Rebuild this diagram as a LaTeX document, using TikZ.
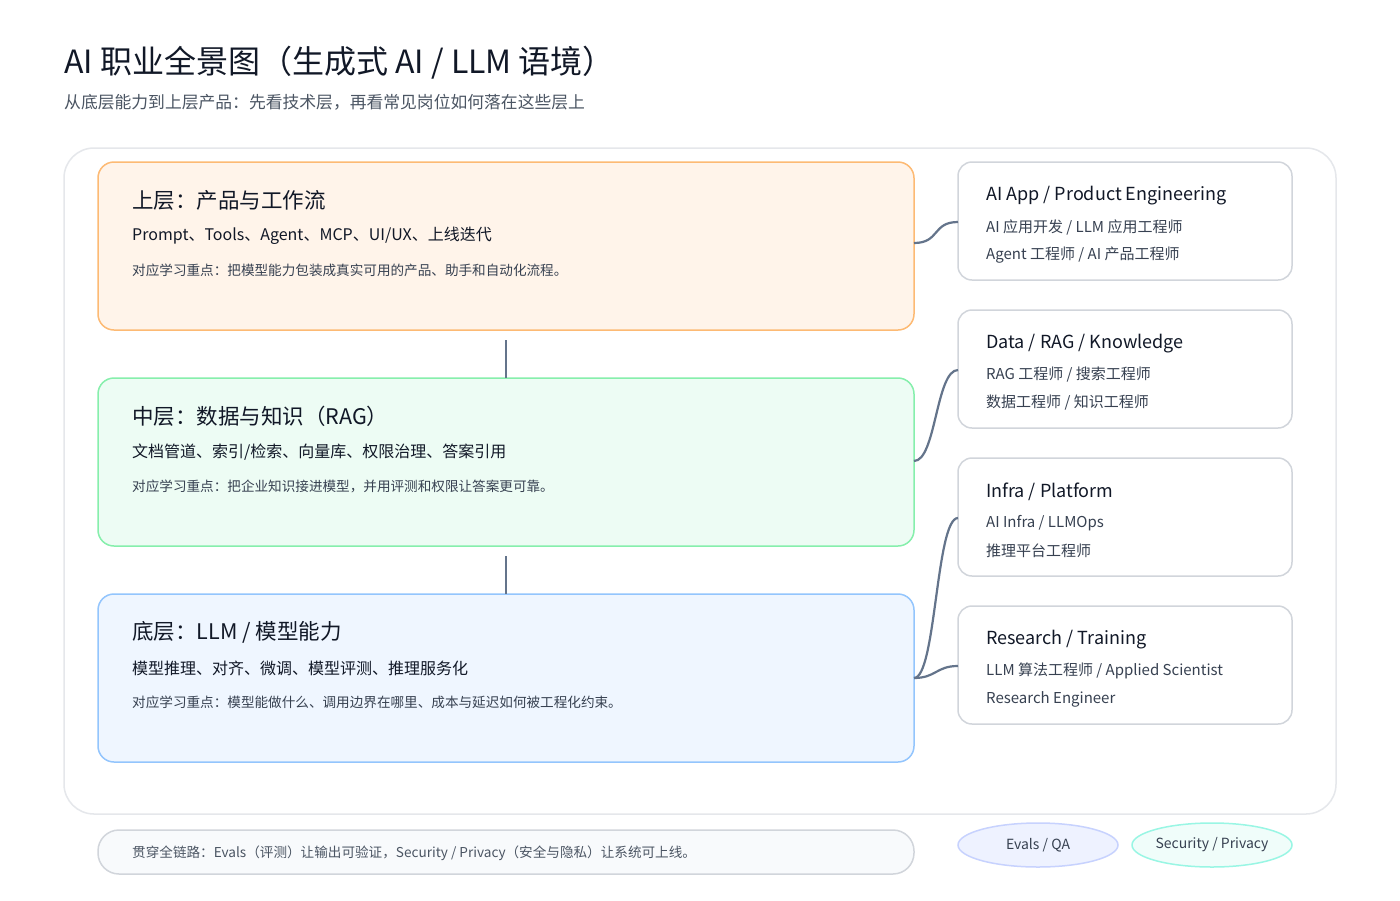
\documentclass[tikz,border=0pt]{standalone}
\usepackage{fontspec}
\setmainfont{Noto Sans CJK SC}
\usetikzlibrary{shapes.geometric}
\definecolor{ink}{HTML}{111827}
\definecolor{sub}{HTML}{374151}
\definecolor{mut}{HTML}{4B5563}
\definecolor{conn}{HTML}{64748B}
\definecolor{gbord}{HTML}{D1D5DB}
\definecolor{obord}{HTML}{FDBA74}\definecolor{ofill}{HTML}{FFF4EA}
\definecolor{gnbord}{HTML}{86EFAC}\definecolor{gnfill}{HTML}{EDFCF4}
\definecolor{bbord}{HTML}{93C5FD}\definecolor{bfill}{HTML}{EFF6FF}
\definecolor{footfill}{HTML}{F8FAFC}
\definecolor{evbord}{HTML}{C7D2FE}\definecolor{evfill}{HTML}{EEF2FF}
\definecolor{spbord}{HTML}{99F6E4}\definecolor{spfill}{HTML}{F0FDFA}
\definecolor{outer}{HTML}{E5E7EB}
\tikzset{
 layer/.style={draw, line width=1.5pt, rounded corners=16pt},
 role/.style={draw=gbord, fill=white, line width=1.5pt, rounded corners=14pt},
 lt/.style={anchor=west, inner sep=0pt, text=ink, font=\fontsize{21.5}{24}\selectfont},
 l2/.style={anchor=west, inner sep=0pt, text=ink, font=\fontsize{16}{19}\selectfont},
 l3/.style={anchor=west, inner sep=0pt, text=sub, font=\fontsize{13.6}{16}\selectfont},
 rt/.style={anchor=west, inner sep=0pt, text=ink, font=\fontsize{18}{21}\selectfont},
 rl/.style={anchor=west, inner sep=0pt, text=sub, font=\fontsize{15}{18}\selectfont},
 cn/.style={draw=conn, line width=2.2pt},
 pill/.style={ellipse, line width=1.5pt, minimum width=160pt, minimum height=44pt, inner sep=0pt, text=sub, font=\fontsize{14}{16}\selectfont},
}
\begin{document}
\begin{tikzpicture}[x=1pt,y=-1pt]
\useasboundingbox[fill=white] (0,0) rectangle (1400,900);
\node[anchor=base west, inner sep=0pt, text=ink, font=\fontsize{32}{36}\selectfont] (title) at (64,73) {AI 职业全景图（生成式 AI / LLM 语境）};
\node[anchor=base west, inner sep=0pt, text=mut, font=\fontsize{16.8}{19}\selectfont] (subt) at (64,108) {从底层能力到上层产品：先看技术层，再看常见岗位如何落在这些层上};
\draw[draw=outer, line width=1.5pt, rounded corners=30pt] (64,148) rectangle (1336,814);
% layers
\draw[layer, draw=obord, fill=ofill] (98,162) rectangle (914,330);
\draw[layer, draw=gnbord, fill=gnfill] (98,378) rectangle (914,546);
\draw[layer, draw=bbord, fill=bfill] (98,594) rectangle (914,762);
\coordinate (L1) at (914,243); \coordinate (L2) at (914,461); \coordinate (L3) at (914,678);
\coordinate (v1a) at (506,340); \coordinate (v1b) at (506,378);
\coordinate (v2a) at (506,556); \coordinate (v2b) at (506,594);
\draw[cn] (v1a) -- (v1b); \draw[cn] (v2a) -- (v2b);
\node[lt] (t1) at (132,200) {上层：产品与工作流};
\node[l2] (a1) at (132,236) {Prompt、Tools、Agent、MCP、UI/UX、上线迭代};
\node[l3] (b1) at (132,270) {对应学习重点：把模型能力包装成真实可用的产品、助手和自动化流程。};
\node[lt] (t2) at (132,416) {中层：数据与知识（RAG）};
\node[l2] (a2) at (132,452) {文档管道、索引/检索、向量库、权限治理、答案引用};
\node[l3] (b2) at (132,486) {对应学习重点：把企业知识接进模型，并用评测和权限让答案更可靠。};
\node[lt] (t3) at (132,632) {底层：LLM / 模型能力};
\node[l2] (a3) at (132,668) {模型推理、对齐、微调、模型评测、推理服务化};
\node[l3] (b3) at (132,702) {对应学习重点：模型能做什么、调用边界在哪里、成本与延迟如何被工程化约束。};
% roles
\draw[role] (958,162) rectangle (1292,280);
\draw[role] (958,310) rectangle (1292,428);
\draw[role] (958,458) rectangle (1292,576);
\draw[role] (958,606) rectangle (1292,724);
\coordinate (R1) at (958,222); \coordinate (R2) at (958,370); \coordinate (R3) at (958,518); \coordinate (R4) at (958,666);
\node[rt] (r1) at (986,196) {AI App / Product Engineering};
\node[rl] (r1a) at (986,227) {AI 应用开发 / LLM 应用工程师};
\node[rl] (r1b) at (986,255) {Agent 工程师 / AI 产品工程师};
\node[rt] (r2) at (986,344) {Data / RAG / Knowledge};
\node[rl] (r2a) at (986,375) {RAG 工程师 / 搜索工程师};
\node[rl] (r2b) at (986,403) {数据工程师 / 知识工程师};
\node[rt] (r3) at (986,492) {Infra / Platform};
\node[rl] (r3a) at (986,523) {AI Infra / LLMOps};
\node[rl] (r3b) at (986,551) {推理平台工程师};
\node[rt] (r4) at (986,640) {Research / Training};
\node[rl] (r4a) at (986,671) {LLM 算法工程师 / Applied Scientist};
\node[rl] (r4b) at (986,699) {Research Engineer};
\draw[cn] (L1) .. controls (940,243) and (932,222) .. (R1);
\draw[cn] (L2) .. controls (936,461) and (936,370) .. (R2);
\draw[cn] (L3) .. controls (936,678) and (936,518) .. (R3);
\draw[cn] (L3) .. controls (936,678) and (936,666) .. (R4);
% bottom
\draw[draw=gbord, fill=footfill, line width=1.5pt, rounded corners=21pt] (98,830) rectangle (914,874);
\node[l3, text=mut] (foot) at (132,853) {贯穿全链路：Evals（评测）让输出可验证，Security / Privacy（安全与隐私）让系统可上线。};
\node[pill, draw=evbord, fill=evfill] (ev) at (1038,845) {Evals / QA};
\node[pill, draw=spbord, fill=spfill] (sp) at (1212,845) {Security / Privacy};
\end{tikzpicture}
\end{document}
